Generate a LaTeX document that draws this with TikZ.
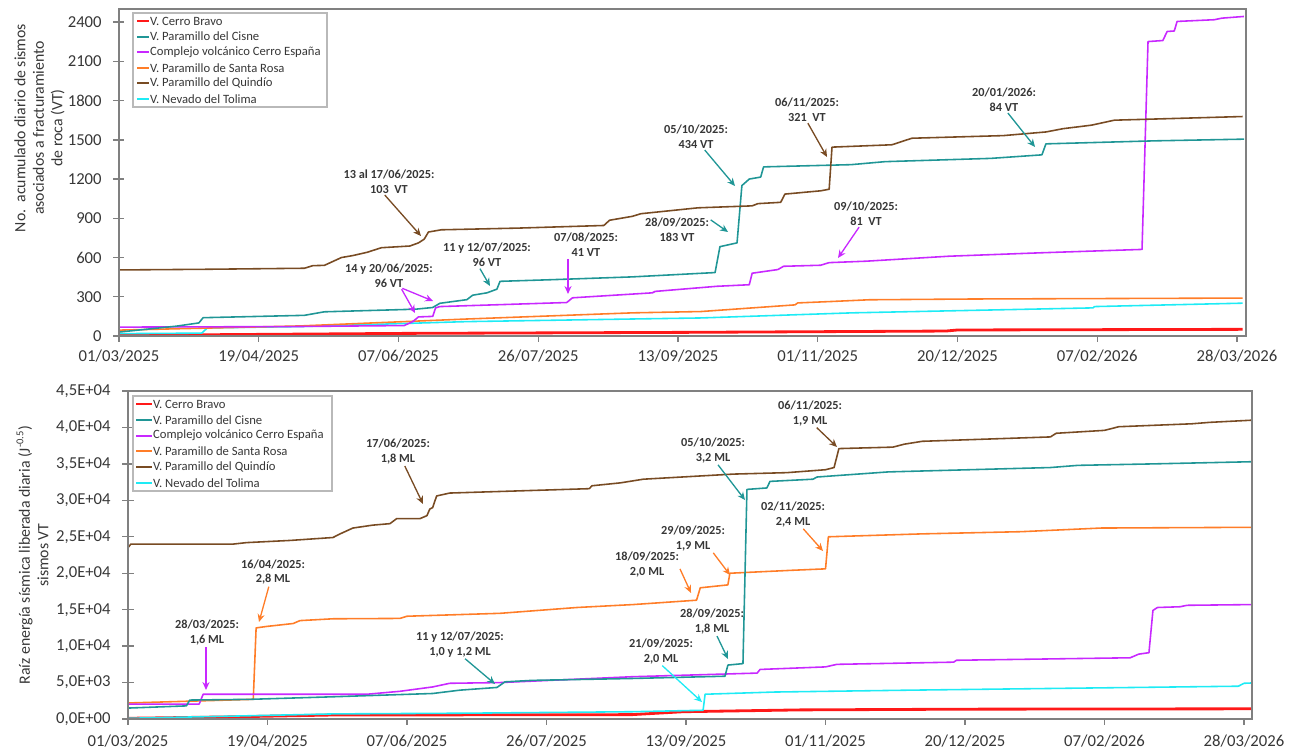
\documentclass[tikz,border=0pt]{standalone}
\usepackage{fontspec}
\setmainfont{Carlito}
\usetikzlibrary{arrows.meta, positioning, calc}

\definecolor{cbravo}{RGB}{255,25,25}
\definecolor{cisne}{RGB}{32,150,150}
\definecolor{espana}{RGB}{200,40,255}
\definecolor{srosa}{RGB}{255,125,40}
\definecolor{quindio}{RGB}{120,75,35}
\definecolor{tolima}{RGB}{30,235,245}
\definecolor{ejes}{RGB}{128,128,128}
\definecolor{texto}{RGB}{55,55,55}

\newcommand{\fuenteeje}{\fontsize{9.5}{11}\selectfont}
\newcommand{\fuentetit}{\fontsize{9}{10.5}\selectfont}
\newcommand{\fuenteley}{\fontsize{7.2}{8.9}\selectfont}
\newcommand{\fuentenota}{\fontsize{7}{8.5}\selectfont\bfseries}

\begin{document}
\begin{tikzpicture}[x=0.02cm, y=-0.02cm,
  serie/.style={line width=0.9pt, line join=round},
  gruesa/.style={line width=1.6pt},
  eje/.style={draw=ejes, line width=0.8pt},
  ylab/.style={anchor=east, inner sep=0pt, font=\fuenteeje, text=texto},
  xlab/.style={inner sep=0pt, font=\fuenteeje, text=texto},
  ytitle/.style={rotate=90, align=center, inner sep=0pt, font=\fuentetit, text=texto},
  legbox/.style={draw=gray!55, fill=white, line width=0.6pt},
  legtxt/.style={anchor=west, inner sep=0.5pt, font=\fuenteley, text=texto},
  legline/.style={line width=1.2pt},
  nota/.style={align=center, inner sep=0pt, font=\fuentenota, text=texto},
  flecha/.style={-{Stealth[length=4.5pt, width=4pt]}, line width=0.75pt, shorten <=1pt}
]
\useasboundingbox (0,0) rectangle (1293,750);

% ---------- Panel superior: numero acumulado de VT ----------
\begin{scope}[shift={(119,336)}, xscale=2.852, yscale=-0.1308]
  \draw[serie, cbravo, gruesa] plot coordinates {(0,5) (100,20) (200,28) (290,38) (294,46) (394,51)};
  \draw[serie, tolima] plot coordinates {(0,18) (29,22) (31,62) (63.5,72) (122,110) (180,130) (204,138) (257,177) (341.5,215) (342,225) (394,251)};
  \draw[serie, srosa] plot coordinates {(0,45) (63.5,77) (122,130) (180,177) (204,187) (237,238) (238,253) (250,264) (263,277) (300,283) (394,290)};
  \draw[serie, espana] plot coordinates {(0,68) (60,72) (100,80) (103,110) (105,146) (110,150) (111,215) (112.5,225) (157,256) (159,292) (187,330) (188,341) (209.6,380) (221,392) (222,480) (231,508) (233,533) (246,541) (249,561) (262,572) (291,610) (323,636) (358.7,662) (360.8,2251) (366,2259) (367.5,2328) (370,2332) (371,2405) (384,2418) (386.7,2430) (394.4,2443)};
  \draw[serie, cisne] plot coordinates {(0,30) (20,75) (28,100) (29.5,140) (65,158) (72,185) (104,205) (110,218) (112.5,250) (122,278) (124,312) (129,330) (132.5,358) (133.6,418) (151,430) (180,452) (209,485) (210.7,683) (216.7,712) (218.4,1150) (221,1200) (225,1215) (226,1293) (256.7,1310) (268.6,1333) (305.7,1358) (323.6,1385) (325,1469) (363,1492) (394.5,1505)};
  \draw[serie, quindio] plot coordinates {(0,505) (30,510) (65,518) (68,538) (72,540) (75,570) (78,600) (82,615) (87,640) (92,675) (102,688) (105,712) (107,740) (108.5,795) (113,812) (140,825) (170,845) (172,885) (180,915) (183,935) (203,980) (222,995) (224,1012) (232,1022) (233.5,1085) (246,1110) (249,1122) (250,1444) (271,1462) (278,1512) (310,1532) (325,1560) (331,1585) (341,1612) (349,1650) (394,1678)};
\end{scope}

% marco y ejes
\draw[eje] (119,9) rectangle (1246,336);
\foreach \v in {0,300,...,2400} {
  \draw[eje] (113,{336-\v*0.1308}) -- (124,{336-\v*0.1308});
  \node[ylab] (yt\v) at (102,{336-\v*0.1308}) {\v};
}
\foreach \d [count=\i from 0] in {01/03/2025,19/04/2025,07/06/2025,26/07/2025,13/09/2025,01/11/2025,20/12/2025,07/02/2026,28/03/2026} {
  \draw[eje] ({119+\i*139.75},336) -- ({119+\i*139.75},342);
  \node[xlab] (xt\i) at ({119+\i*139.75},356) {\d};
}
\node[ytitle] (ttop) at (39.5,128) {No.\ \ acumulado diario de sismos\\asociados a fracturamiento\\de roca (VT)};

% leyenda superior
\draw[legbox] (133,13) rectangle (327,107);
\foreach \c/\t [count=\k] in {cbravo/V. Cerro Bravo, cisne/V. Paramillo del Cisne, espana/Complejo volcánico Cerro España, srosa/V. Paramillo de Santa Rosa, quindio/V. Paramillo del Quindío, tolima/V. Nevado del Tolima} {
  \node[legtxt] (lt\k) at (149,{5.4+15.6*\k}) {\t};
  \draw[legline, \c] (137,{5.4+15.6*\k}) -- (lt\k.west);
}

% anotaciones superiores
\node[nota] (q1) at (389,181.5) {13 al 17/06/2025:\\103\ \ VT};
\node[nota] (q2) at (389,275.5) {14 y 20/06/2025:\\96 VT};
\node[nota] (q3) at (487,255) {11 y 12/07/2025:\\96 VT};
\node[nota] (q4) at (586,245) {07/08/2025:\\41 VT};
\node[nota] (q5) at (677,230) {28/09/2025:\\183 VT};
\node[nota] (q6) at (696,136.5) {05/10/2025:\\434 VT};
\node[nota] (q7) at (807,109.5) {06/11/2025:\\321\ \ VT};
\node[nota] (q8) at (866,213.5) {09/10/2025:\\81\ \ VT};
\node[nota] (q9) at (1004,99.5) {20/01/2026:\\84 VT};

\coordinate (k1) at (421,236);
\coordinate (k2a) at (433,301);
\coordinate (k2b) at (415,313);
\coordinate (k3) at (490,286);
\coordinate (k4) at (568,294);
\coordinate (k5) at (728,232);
\coordinate (k6) at (735,186);
\coordinate (k7) at (827,157);
\coordinate (k8) at (838,258);
\coordinate (k9) at (1035,147);

\draw[flecha, quindio] (q1.246) -- (k1);
\draw[flecha, espana] (q2.314) -- (k2a);
\draw[flecha, espana] (q2.314) -- (k2b);
\draw[flecha, cisne] (q3.237) -- (k3);
\draw[flecha, espana] (q4.south -| k4) -- (k4);
\draw[flecha, cisne] (q5.19) -- (k5);
\draw[flecha, cisne] (q6.302) -- (k6);
\draw[flecha, quindio] (q7.south) -- (k7);
\draw[flecha, espana] (q8.244) -- (k8);
\draw[flecha, cisne] (q9.283) -- (k9);

% ---------- Panel inferior: raiz de energia ----------
\begin{scope}[shift={(128,719)}, xscale=2.847, yscale=-7.289]
  \draw[serie, cbravo, gruesa] plot coordinates {(0,0.1) (37,0.3) (72,0.55) (177,0.6) (195,1.0) (236,1.25) (294,1.35) (395,1.4)};
  \draw[serie, tolima] plot coordinates {(0,0.1) (37,0.4) (72,0.7) (119,0.8) (177,1.0) (202,1.2) (202.7,3.4) (227,3.7) (275,3.96) (390,4.5) (392,4.9) (395,4.95)};
  \draw[serie, srosa] plot coordinates {(0,2.2) (44,2.7) (45,12.5) (48.7,12.7) (58,13.1) (60.4,13.5) (72,13.75) (95.5,13.8) (98,14.1) (130.7,14.5) (157.7,15.3) (177.4,15.7) (199.7,16.3) (201,18.0) (210.7,18.4) (211.4,20.0) (233,20.4) (245,20.6) (246,25.0) (279,25.4) (313.7,25.7) (341.8,26.2) (395,26.3)};
  \draw[serie, espana] plot coordinates {(0,2.05) (25,2.05) (26.4,3.4) (84,3.4) (95.5,3.8) (107,4.4) (113,4.9) (130.7,5.0) (177,5.8) (221,6.3) (222,6.8) (245,7.15) (249,7.5) (290,7.8) (291,8.06) (352,8.4) (355,8.9) (358.6,9.1) (360,14.9) (361.6,15.3) (369.5,15.4) (372,15.6) (395,15.7)};
  \draw[serie, cisne] plot coordinates {(0,1.5) (20.5,1.8) (21.7,2.6) (43,2.7) (72,3.05) (107,3.5) (116.6,3.96) (129.6,4.33) (132.4,5.1) (142,5.3) (177,5.56) (209.7,5.87) (210.7,7.4) (216,7.6) (217.4,31.5) (224.4,31.7) (225.5,32.6) (240.6,32.9) (242,33.2) (267,33.9) (324,34.5) (333.7,34.8) (360,35.0) (395,35.3)};
  \draw[serie, quindio] plot coordinates {(0,23.5) (1,24.0) (37,24.0) (41.6,24.2) (57,24.5) (72,24.9) (74.5,25.4) (79,26.2) (86,26.6) (92,26.8) (94.4,27.5) (102.6,27.5) (105,27.9) (106,28.8) (107,29.0) (108.4,30.6) (113,31.0) (162,31.6) (163,32.0) (173,32.4) (181,32.9) (212.6,33.6) (231.5,33.8) (245,34.2) (248,34.5) (249.7,37.1) (268.7,37.3) (272.6,37.7) (279,38.1) (324,38.7) (326,39.2) (343,39.6) (348,40.1) (373.6,40.5) (380,40.7) (395,41.0)};
\end{scope}

% marco y ejes
\draw[eje] (128,391) rectangle (1252,719);
\foreach \v/\t in {0/{0,0E+00},5/{5,0E+03},10/{1,0E+04},15/{1,5E+04},20/{2,0E+04},25/{2,5E+04},30/{3,0E+04},35/{3,5E+04},40/{4,0E+04},45/{4,5E+04}} {
  \draw[eje] (122,{719-\v*7.289}) -- (134,{719-\v*7.289});
  \node[ylab] (yb\v) at (111,{719-\v*7.289}) {\t};
}
\foreach \d [count=\i from 0] in {01/03/2025,19/04/2025,07/06/2025,26/07/2025,13/09/2025,01/11/2025,20/12/2025,07/02/2026,28/03/2026} {
  \draw[eje] ({128+\i*139.5},719) -- ({128+\i*139.5},725);
  \node[xlab] (xb\i) at ({128+\i*139.5},741) {\d};
}
\node[ytitle] (tbot) at (32.5,555) {Raíz energía sísmica liberada diaria (J\textsuperscript{-0.5})\\sismos VT};

% leyenda inferior
\draw[legbox] (133,396) rectangle (332,491);
\foreach \c/\t [count=\k] in {cbravo/V. Cerro Bravo, cisne/V. Paramillo del Cisne, espana/Complejo volcánico Cerro España, srosa/V. Paramillo de Santa Rosa, quindio/V. Paramillo del Quindío, tolima/V. Nevado del Tolima} {
  \node[legtxt] (lb\k) at (152,{388.2+15.8*\k}) {\t};
  \draw[legline, \c] (136,{388.2+15.8*\k}) -- (lb\k.west);
}

% anotaciones inferiores
\node[nota] (e1) at (273,572) {16/04/2025:\\2,8 ML};
\node[nota] (e2) at (207,632.5) {28/03/2025:\\1,6 ML};
\node[nota] (e3) at (398,451.5) {17/06/2025:\\1,8 ML};
\node[nota] (e4) at (460,644.5) {11 y 12/07/2025:\\1,0 y 1,2 ML};
\node[nota] (e5) at (647,564.5) {18/09/2025:\\2,0 ML};
\node[nota] (e6) at (693,538.5) {29/09/2025:\\1,9 ML};
\node[nota] (e7) at (713,450.5) {05/10/2025:\\3,2 ML};
\node[nota] (e8) at (712,621.5) {28/09/2025:\\1,8 ML};
\node[nota] (e9) at (661,651.5) {21/09/2025:\\2,0 ML};
\node[nota] (e10) at (810,413.5) {06/11/2025:\\1,9 ML};
\node[nota] (e11) at (793,514.5) {02/11/2025:\\2,4 ML};

\coordinate (m1) at (259,622);
\coordinate (m2) at (206,690);
\coordinate (m3) at (423,504);
\coordinate (m4) at (495,684);
\coordinate (m5) at (691,593);
\coordinate (m6) at (730,575);
\coordinate (m7) at (745,500);
\coordinate (m8) at (728,659);
\coordinate (m9) at (702,702);
\coordinate (m10) at (837,447);
\coordinate (m11) at (823,551);

\draw[flecha, srosa] (e1.254) -- (m1);
\draw[flecha, espana] (e2.south -| m2) -- (m2);
\draw[flecha, quindio] (e3.295) -- (m3);
\draw[flecha, cisne] (e4.286) -- (m4);
\draw[flecha, srosa] (e5.355) -- (m5);
\draw[flecha, srosa] (e6.326) -- (m6);
\draw[flecha, cisne] (e7.287) -- (m7);
\draw[flecha, cisne] (e8.288) -- (m8);
\draw[flecha, tolima] (e9.south) -- (m9);
\draw[flecha, quindio] (e10.293) -- (m10);
\draw[flecha, srosa] (e11.305) -- (m11);

\end{tikzpicture}
\end{document}
